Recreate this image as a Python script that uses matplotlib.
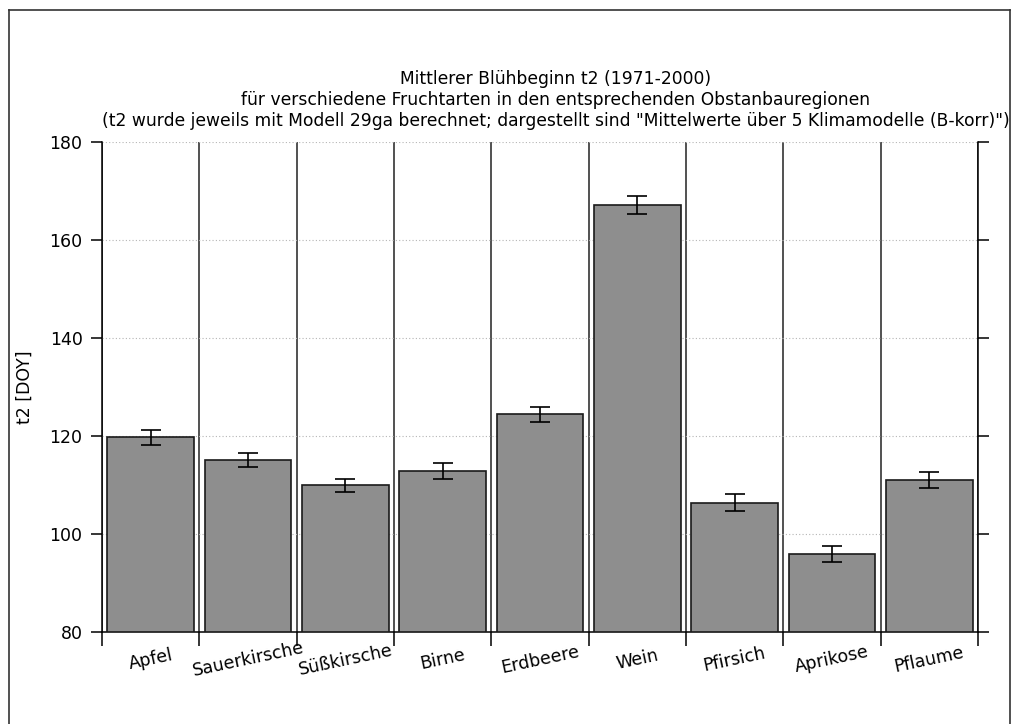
import matplotlib
matplotlib.use("Agg")
import matplotlib.pyplot as plt
from matplotlib.lines import Line2D
import numpy as np

# Mean flowering onset t2 per fruit type (day of year), with spread over climate models
fruits = ["Apfel", "Sauerkirsche", "Süßkirsche", "Birne", "Erdbeere",
          "Wein", "Pfirsich", "Aprikose", "Pflaume"]
t2_mean = [119.7, 115.1, 109.9, 112.9, 124.4, 167.1, 106.4, 95.9, 111.0]
t2_err = [1.5, 1.5, 1.4, 1.6, 1.6, 1.8, 1.7, 1.7, 1.7]
y_ticks = [80, 100, 120, 140, 160, 180]

title_lines = [
    "Mittlerer Blühbeginn t2 (1971-2000)",
    "für verschiedene Fruchtarten in den entsprechenden Obstanbauregionen",
    '(t2 wurde jeweils mit Modell 29ga berechnet; dargestellt sind "Mittelwerte über 5 Klimamodelle (B-korr)")',
]

plt.rcParams["font.family"] = ["DejaVu Sans"]

W, H = 1012, 724
fig = plt.figure(figsize=(W / 100, H / 100), dpi=100)
ax = fig.add_axes([102 / W, 1 - 632 / H, (978 - 102) / W, (632 - 142) / H])

x = np.arange(len(fruits))
ax.bar(x, [v - 80 for v in t2_mean], bottom=80, width=0.89, color="#8e8e8e",
       edgecolor="#1a1a1a", linewidth=1.2, zorder=3)
ax.errorbar(x, t2_mean, yerr=t2_err, fmt="none", ecolor="black",
            elinewidth=1.2, capsize=7, capthick=1.2, zorder=4)

ax.set_xlim(-0.5, len(fruits) - 0.5)
ax.set_ylim(80, 180)
ax.set_yticks(y_ticks)
ax.set_yticklabels([str(t) for t in y_ticks], fontsize=12.5)
ax.tick_params(axis="y", which="major", direction="out", length=8, width=1.1,
               right=True, pad=6)
ax.yaxis.grid(True, linestyle=(0, (1, 2)), color="#b5b5b5", linewidth=0.8, zorder=0)

# category centres carry the labels, category boundaries carry separators
ax.set_xticks(x)
ax.set_xticklabels(fruits, fontsize=12.5, rotation=12, rotation_mode="anchor",
                   ha="center", va="center")
ax.tick_params(axis="x", which="major", length=0, pad=20)
ax.set_xticks(np.arange(len(fruits) + 1) - 0.5, minor=True)
ax.tick_params(axis="x", which="minor", direction="out", length=10, width=1.1)
ax.xaxis.grid(True, which="minor", color="#222222", linewidth=1.1, zorder=1)
ax.xaxis.grid(False, which="major")

ax.spines["top"].set_visible(False)
for s in ("left", "right", "bottom"):
    ax.spines[s].set_linewidth(1.1)

ax.set_ylabel("t2 [DOY]", fontsize=12.5)
ax.yaxis.set_label_coords(-(102 - 34) / (978 - 102), 0.5)

fig.text(556 / W, 1 - 70 / H, "\n".join(title_lines), ha="center", va="top",
         fontsize=12.3, linespacing=1.2)

# outer frame around the figure
frame = dict(transform=fig.transFigure, color="#333333", linewidth=1.2)
fig.add_artist(Line2D([9 / W, 9 / W], [0, 1 - 10 / H], **frame))
fig.add_artist(Line2D([9 / W, 1010 / W], [1 - 10 / H, 1 - 10 / H], **frame))
fig.add_artist(Line2D([1010 / W, 1010 / W], [0, 1 - 10 / H], **frame))

fig.savefig("out.png", dpi=100)
